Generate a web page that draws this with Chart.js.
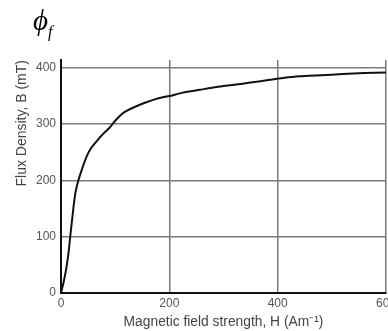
<!DOCTYPE html>
<html>
<head>
<meta charset="utf-8">
<script src="https://cdn.jsdelivr.net/npm/chart.js@4.4.1/dist/chart.umd.min.js"></script>
<style>
html,body{margin:0;padding:0;background:#fff;overflow:hidden;}
#wrap{position:relative;width:388px;height:331px;overflow:hidden;}
#c{position:absolute;left:0;top:0;}
#phi{position:absolute;left:33px;top:6px;font-family:"Liberation Serif","DejaVu Serif",serif;font-style:italic;font-size:29px;color:#000;line-height:1;}
#phi sub{font-size:16px;vertical-align:-7px;margin-left:0px;}
</style>
</head>
<body>
<div id="wrap">
<canvas id="c" width="420" height="331" style="width:420px;height:331px"></canvas>
<div id="phi">ϕ<sub>f</sub></div>
</div>
<script>
const fieldH = [0, 5, 10, 14, 17, 20, 23, 27, 32, 38, 47, 56, 66, 78, 90, 100, 115, 135, 155, 180, 200, 225, 256, 287, 320, 350, 380, 410, 440, 480, 520, 560, 600];
const fluxB  = [0, 20, 45, 72, 100, 126, 152, 180, 200, 218, 242, 258, 270, 283, 294, 306, 320, 330, 338, 346, 350, 356, 361, 366, 370, 374, 378, 382, 385, 387, 389, 391, 392];
const xTicks = [0, 200, 400, 600];
const yTicks = [0, 100, 200, 300, 400];
const xTitle = "Magnetic field strength, H (Am\u207B\u00B9)";
const yTitle = "Flux Density, B (mT)";

const pts = fieldH.map((h, i) => ({x: h, y: fluxB[i]}));
const font = {family: "'Liberation Sans', Arial, sans-serif", size: 12};

new Chart(document.getElementById('c'), {
  type: 'line',
  data: {datasets: [{data: pts, borderColor: '#111', borderWidth: 2, pointRadius: 0, tension: 0.2, fill: false}]},
  options: {
    responsive: false,
    animation: false,
    devicePixelRatio: 1,
    layout: {padding: {top: 60, right: 34, left: 0, bottom: 0}},
    plugins: {legend: {display: false}, tooltip: {enabled: false}},
    scales: {
      x: {
        type: 'linear', min: 0, max: 600,
        afterBuildTicks: s => { s.ticks = xTicks.map(v => ({value: v})); },
        afterFit: s => { s.height = 38; },
        ticks: {font: font, color: '#555', padding: 3, maxRotation: 0},
        grid: {color: '#7a7a7a', lineWidth: 1.5, drawTicks: false},
        border: {display: true, color: '#111', width: 2},
        title: {display: true, text: xTitle, color: '#444', font: {family: font.family, size: 13.8}, padding: {top: 0, bottom: 1}}
      },
      y: {
        type: 'linear', min: 0, max: 414,
        afterBuildTicks: s => { s.ticks = yTicks.map(v => ({value: v})); },
        afterFit: s => { s.width = 61; },
        ticks: {font: font, color: '#555', padding: 5},
        grid: {color: '#7a7a7a', lineWidth: 1.5, drawTicks: false},
        border: {display: true, color: '#111', width: 2},
        title: {display: true, text: yTitle, align: 'end', color: '#444', font: {family: font.family, size: 14}, padding: {top: 14, bottom: 0}}
      }
    }
  }
});
</script>
</body>
</html>
